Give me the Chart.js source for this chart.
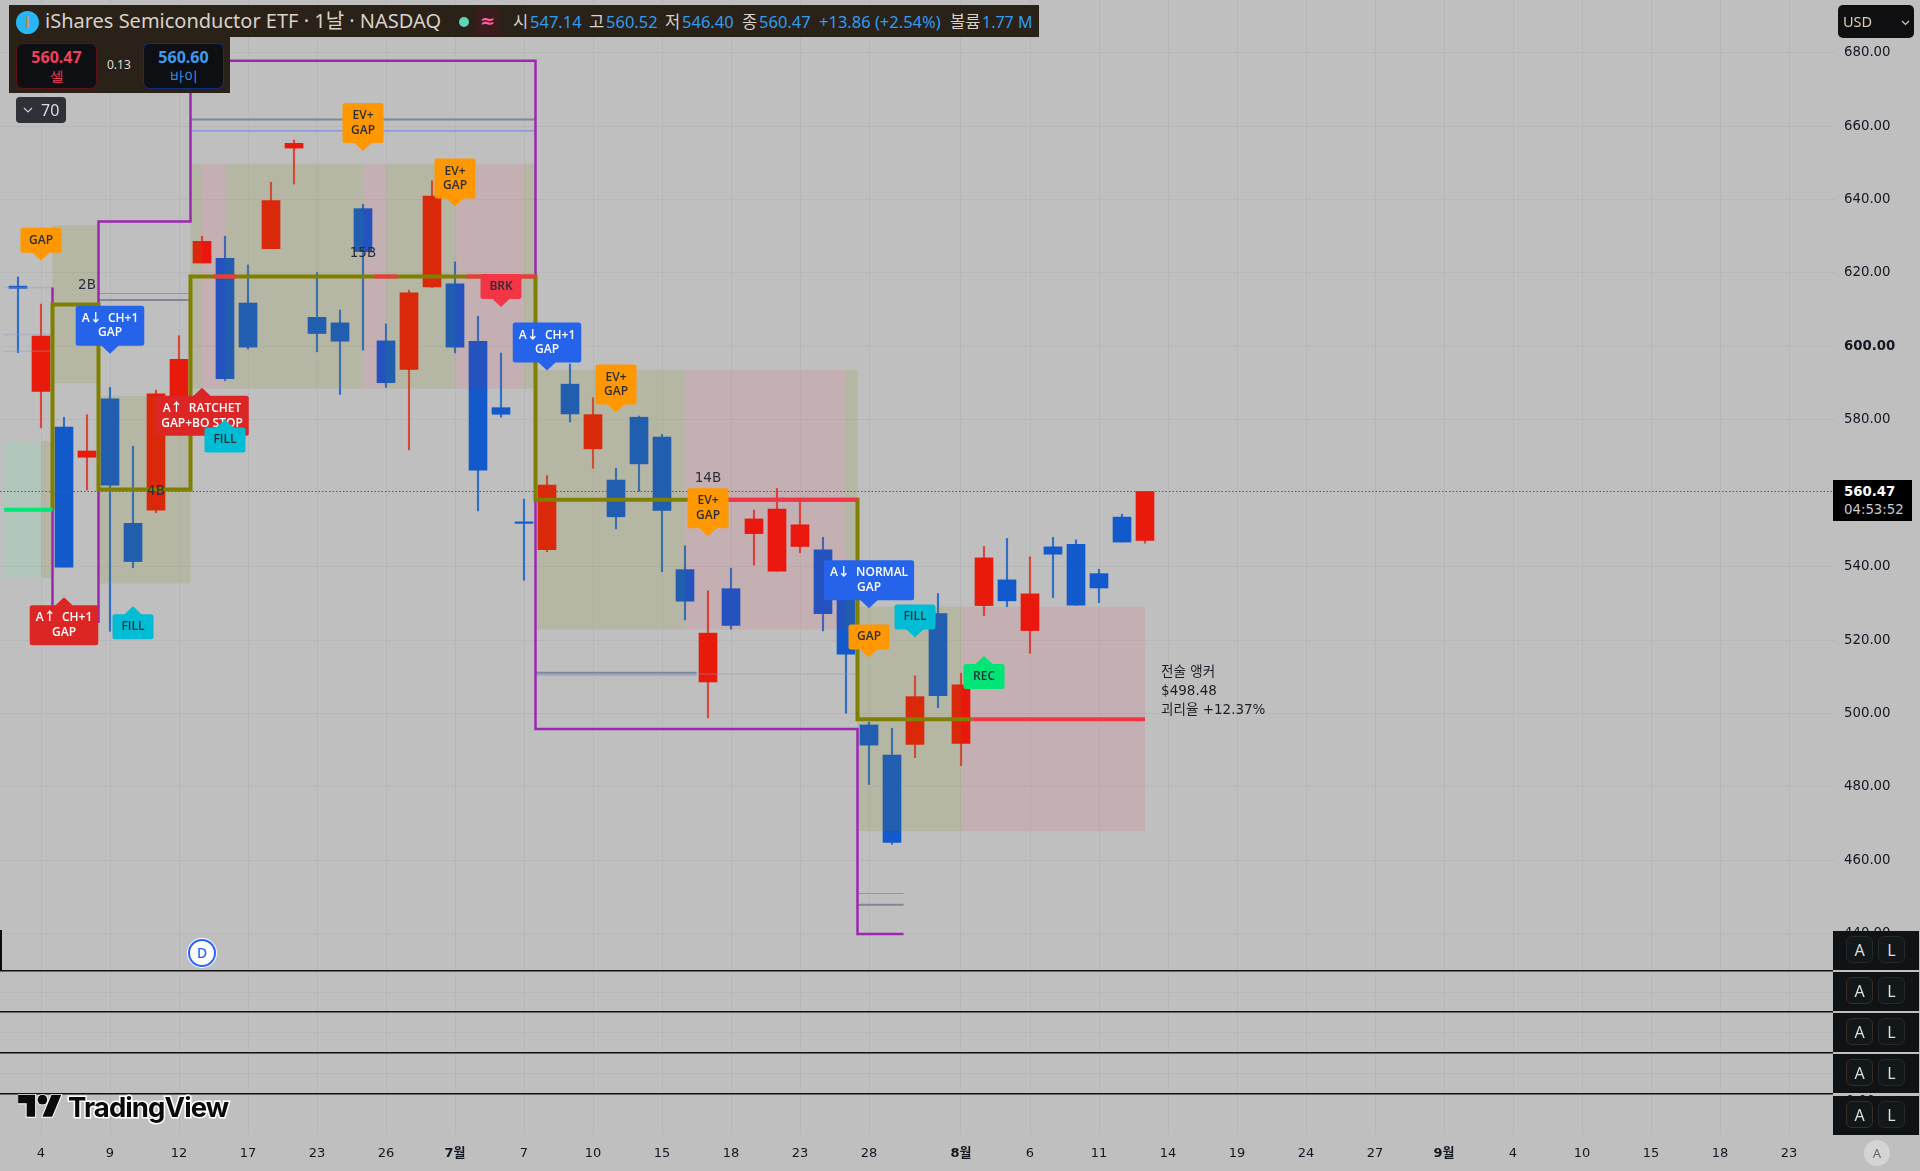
<!DOCTYPE html>
<html lang="ko"><head><meta charset="utf-8">
<script src="https://cdn.jsdelivr.net/npm/chart.js@4"></script>
<style>
html,body{margin:0;padding:0;background:#bfbfbf;width:1920px;height:1171px;overflow:hidden;font-family:"Noto Sans","Noto Sans CJK KR",sans-serif}
#c{position:absolute;left:0;top:0;display:block}
.a{position:absolute;white-space:nowrap}
.hd{line-height:1;color:#2f9cf0;font-size:16.5px}
.hw{color:#d8d2c8}
.al{position:absolute;left:1833px;width:86px;height:39px;background:#0f1316}
.al i{position:absolute;top:5px;width:27px;height:27px;border:1px solid #24282b;border-radius:6px;background:#12171a;color:#ddd;font:normal 16px/27px "Noto Sans";text-align:center;box-sizing:border-box}
.pl{position:absolute;left:0;width:1833px;height:2px;background:linear-gradient(#111 50%,#666 50%)}
.fg{position:absolute;left:0;width:1835px;height:1px;background:rgba(0,0,0,.035)}
</style></head><body>
<canvas id="c" width="1920" height="1171"></canvas>

<div class="fg" style="top:992px"></div><div class="fg" style="top:1032px"></div><div class="fg" style="top:1073px"></div>
<div class="pl" style="top:970px"></div><div class="pl" style="top:1011px"></div><div class="pl" style="top:1052px"></div><div class="pl" style="top:1093px"></div>
<div class="a" style="left:0;top:930px;width:2px;height:40px;background:#0a0a0a"></div>

<div class="a" style="left:9px;top:5px;width:1030px;height:32px;background:#2a2118"></div>
<div class="a" style="left:9px;top:37px;width:221px;height:56px;background:#2a2118"></div>
<div class="a" style="left:16px;top:11px;width:23px;height:23px;border-radius:50%;background:#29b6f6;color:#d98a3a;font:bold 16px/23px 'Noto Sans';text-align:center">i</div>
<div class="a hw" id="title" style="left:45px;top:8px;font-size:20px;line-height:26px">iShares Semiconductor ETF · 1날 · NASDAQ</div>
<div class="a" style="left:459px;top:17px;width:10px;height:10px;border-radius:50%;background:#5fd6b6"></div>
<div class="a" style="left:476px;top:7px;width:23px;height:28px;background:#3a1c1c;color:#ff5fa8;font:bold 18px/28px 'DejaVu Sans';text-align:center">≈</div>
<div class="a hd hw" style="left:513px;top:14px">시</div><div class="a hd" style="left:530px;top:14px">547.14</div>
<div class="a hd hw" style="left:589px;top:14px">고</div><div class="a hd" style="left:606px;top:14px">560.52</div>
<div class="a hd hw" style="left:665px;top:14px">저</div><div class="a hd" style="left:682px;top:14px">546.40</div>
<div class="a hd hw" style="left:742px;top:14px">종</div><div class="a hd" style="left:759px;top:14px">560.47</div>
<div class="a hd" style="left:819px;top:14px">+13.86 (+2.54%)</div>
<div class="a hd hw" style="left:950px;top:14px">볼륨</div><div class="a hd" style="left:982px;top:14px;font-size:16px">1.77 M</div>

<div class="a" style="left:16px;top:43px;width:81px;height:46px;box-sizing:border-box;border:1px solid #5f1018;border-radius:7px;background:#0d0f12;text-align:center;color:#f23f5d">
 <div style="font:bold 16px/20px 'Noto Sans';margin-top:3px">560.47</div><div style="font:14px/17px 'Noto Sans'">셀</div></div>
<div class="a" style="left:107px;top:57px;color:#ddd;font:12px/16px 'Noto Sans'">0.13</div>
<div class="a" style="left:143px;top:43px;width:81px;height:46px;box-sizing:border-box;border:1px solid #0f2f7a;border-radius:7px;background:#0d0f12;text-align:center;color:#3d9cf0">
 <div style="font:bold 16px/20px 'Noto Sans';margin-top:3px">560.60</div><div style="font:14px/17px 'Noto Sans'">바이</div></div>

<div class="a" style="left:16px;top:97px;width:50px;height:26px;border-radius:4px;background:#2e3136;color:#ddd;font:16px/26px 'Noto Sans'">
 <svg style="position:absolute;left:7px;top:10px" width="10" height="6"><path d="M1 1l4 4 4-4" fill="none" stroke="#ccc" stroke-width="1.2"/></svg><span style="position:absolute;left:25px">70</span></div>

<div class="a" style="left:1838px;top:5px;width:76px;height:33px;border-radius:5px;background:#0f0f11;color:#ddd0b0;font:14.500px/33px 'Noto Sans'"><span style="position:absolute;left:5px">USD</span>
 <svg style="position:absolute;left:63px;top:15px" width="9" height="6"><path d="M1 1l3.500 3.500 3.500-3.500" fill="none" stroke="#ccc" stroke-width="1.2"/></svg></div>

<div class="a" style="left:1833px;top:480px;width:79px;height:41px;background:#000;font-family:'DejaVu Sans'">
 <div style="position:absolute;left:11px;top:3px;color:#fff;font:bold 13.300px/17px 'DejaVu Sans'">560.47</div>
 <div style="position:absolute;left:11px;top:21px;color:#ccc;font:13.300px/17px 'DejaVu Sans'">04:53:52</div></div>

<div class="a" style="left:1846px;top:1092px;color:#131722;font:13px/16px 'DejaVu Sans'">0.00</div>
<div class="al" style="top:931px"><i style="left:13px">A</i><i style="left:45px">L</i></div>
<div class="al" style="top:972px"><i style="left:13px;border-color:#3a2c22">A</i><i style="left:45px">L</i></div>
<div class="al" style="top:1013px"><i style="left:13px;border-color:#3a2c22">A</i><i style="left:45px">L</i></div>
<div class="al" style="top:1054px"><i style="left:13px;border-color:#3a2c22">A</i><i style="left:45px">L</i></div>
<div class="al" style="top:1096px"><i style="left:13px;border-color:#3a2c22">A</i><i style="left:45px">L</i></div>

<div class="a" style="left:1864px;top:1140px;width:26px;height:26px;border-radius:50%;background:#d4d4d4;color:#666;font:13px/26px 'Noto Sans';text-align:center">A</div>

<div class="a" style="left:188px;top:939px;width:28px;height:28px;box-sizing:border-box;border-radius:50%;background:#fff;border:2px solid #2962ff;box-shadow:0 0 0 1px #fff;color:#2962ff;font:500 14px/24px 'Noto Sans';text-align:center">D</div>

<svg class="a" style="left:18px;top:1090px" width="44" height="34" viewBox="0 0 36 28"><g fill="#0a0a0a" stroke="#fff" stroke-width="1.600" paint-order="stroke"><path d="M14 22H7V11H0V4h14v18z"/><circle cx="20" cy="8" r="4"/><path d="M28 22h-8l7.500-18h8L28 22z"/></g></svg>
<div class="a" style="left:68px;top:1089px;color:#0a0a0a;font:bold 27.500px/36px 'Inter','Noto Sans';letter-spacing:-.9px;paint-order:stroke fill;-webkit-text-stroke:3px #fff">TradingView</div>

<script>
// ---- categories (trading days, then the empty future part of the time axis) ----
const categories = ["6/3","6/4","6/5","6/6","6/9","6/10","6/11","6/12","6/13","6/16","6/17","6/18","6/20","6/23","6/24","6/25","6/26","6/27","6/30",
 "7/1","7/2","7/3","7/7","7/8","7/9","7/10","7/11","7/14","7/15","7/16","7/17","7/18","7/21","7/22","7/23","7/24","7/25","7/28","7/29","7/30","7/31",
 "8/1","8/4","8/5","8/6","8/7","8/8","8/11","8/12","8/13"];
// ---- OHLC ----
const opens  = [616.4,587.7,578.0,569.8,585.7,551.8,555.4,581,622.7,624,611.8,626.6,654,607.9,606.4,637.5,601.5,593.7,616.2,617,601.4,583.3,552.2,544.6,589.7,572.1,563.6,580.7,575.3,539.2,508.6,534,549,538.8,545.5,544.6,538,496.9,488.7,491.6,527.2,491.9,529.4,536.4,522.6,545.4,546.1,538.1,553.5,547.14];
const closes = [615.8,602.8,539.9,571.5,562.2,541.4,587.1,596.5,628.6,591.2,599.8,639.7,655.3,603.5,601.4,625.8,590.1,614.6,640.9,599.8,566.3,581.5,551.8,562.2,581.6,581.4,553.6,568,555.3,530.6,521.9,524,553,555.7,551.4,527.2,516.2,491.4,464.9,504.6,504.9,507.8,542.4,530.7,532.6,543.4,529.5,534.2,546.7,560.47];
const highs  = [618.9,611.5,580.7,581.4,588.8,572.8,588.1,602.9,630,630,622.2,644.7,656.2,620.1,609.9,638.7,606.1,615.3,645.1,623,608.2,598.2,558.4,564.8,595.2,586,566.8,581,576,545.7,533.4,539.6,555.4,561.3,557.7,548,541,497.7,496,510.3,532.7,511,545.5,547.7,542.7,548,547.3,539.3,554.3,560.52];
const lows   = [598.3,577.8,539.9,560.9,522.4,539.7,554.7,580,622.7,590.7,599.3,626.6,644.2,598.5,586.9,599,588.8,571.8,616,598.2,555.2,580.7,536.3,544.1,579.4,566.8,550.3,560.5,538.6,525.5,498.8,523,540.4,538.8,543.8,522.5,500.1,480.7,464.4,488,501.6,485.8,526.6,529.1,516.4,531.6,529.5,530.2,546.7,546.40];
const lastClose = 560.47;
// ---- axes ----
const priceTicks = [680,660,640,620,600,580,540,520,500,480,460,440];
const boldPrice = 600;
const timeTickBars = [1,4,7,10,13,16,19,22,25,28,31,34,37,41,44,47,50,53,56,59,62,65,68,71,74,77];
const timeTickLabels = ["4","9","12","17","23","26","7월","7","10","15","18","23","28","8월","6","11","14","19","24","27","9월","4","10","15","18","23"];
const monthLabels = ["7월","8월","9월"];
// ---- zones: bar range + price range ----
const zoneFrom = [1.5,-0.6,1.0,3.5,7.5,8,9,15,16,19,22,22.5,29,36,36.5,41];
const zoneTo   = [3.5,1.0,1.5,7.5,8,9,15,16,19,22,22.5,29,36,36.5,41,49];
const zoneLow  = [590,536.9,536.9,535.4,588.5,588.5,588.5,588.5,588.5,588.5,588.5,522.9,522.9,522.9,468,468];
const zoneHigh = [633,574.2,574.2,586.5,649.7,649.7,649.7,649.7,649.7,649.7,649.7,593.6,593.6,593.6,529.1,529.1];
const zoneKind = ["olive","teal","olive","olive","olive","pink","olive","pink","olive","pink","olive","olive","pink","olive","olive","pink"];
// ---- stepped level paths ----
const oliveBars   = [1.5,1.5,3.5,3.5,7.5,7.5,22.5,22.5,36.5,36.5,41.5];
const olivePrices = [555.6,611.4,611.4,561,561,619,619,558.2,558.2,498.48,498.48];
const purpleBars   = [1.5,1.5,3.5,3.5,3.5,7.5,7.5,22.5,22.5,36.5,36.5,38.5];
const purplePrices = [616,525,525,634,634,634,677.8,677.8,495.8,495.8,440,440];
// ---- short level segments ----
const redFrom = [8.5,15.5,19.5,29.5,41.5], redTo = [9.5,16.5,22.5,36.5,49], redPrice = [619,619,619,558.2,498.48];
const grayFrom = [7.5,3.5,22.5,36.5], grayTo = [22.5,7.5,29.5,38.5], grayPrice = [661.8,612.6,511.1,447.9];
const blueFrom = [7.5,3.5,22.5,36.5], blueTo = [22.5,7.5,29.5,38.5], bluePrice = [658.7,614.4,510.5,451];
const fadedFrom = [-0.6,-0.6,-0.6,29.5], fadedTo = [1.5,1.5,1.5,36.5], fadedPrice = [616,603.2,598.7,510.8];
const greenFrom = -0.6, greenTo = 1.5, greenPrice = 555.5;
// ---- event markers ----
const markerBars   = [1,4,2,5,8,9,15,19,21,23,26,30,37,37,39,42];
const markerTips   = [623.3,598,531.7,529.2,588.7,580.1,653.2,638.1,610.7,593.4,582,548.3,528.7,515.3,520.7,515.7];
const markerText   = ["GAP","A↓  CH+1|GAP","A↑  CH+1|GAP","FILL","A↑  RATCHET|GAP+BO STOP","FILL","EV+|GAP","EV+|GAP","BRK","A↓  CH+1|GAP","EV+|GAP","EV+|GAP","A↓  NORMAL|GAP","GAP","FILL","REC"];
const markerKind   = ["amber","blue","red","cyan","red","cyan","amber","amber","brk","blue","amber","amber","blue","amber","cyan","rec"];
const markerUp     = [0,0,1,1,1,1,0,0,0,0,0,0,0,0,0,1];
const sizeBars = [3,6,15,30], sizePrices = [616.5,560.6,625.3,564], sizeText = ["2B","4B","15B","14B"];
const noteLines = ["전술 앵커","$498.48","괴리율 +12.37%"], noteBar = 49.7, notePrices = [498.48];

// ---- styling ----
const RED="#e81a0c", BLUE="#1259cc", RED_W="#d8463c", BLUE_W="#2f6fc8";
const zoneFill={olive:"rgba(128,128,0,.14)",pink:"rgba(255,0,30,.08)",teal:"rgba(90,255,170,.12)"};
const markerFill={amber:"#ff9800",blue:"#2563eb",red:"#dc2626",cyan:"#00bcd4",brk:"#f23645",rec:"#00e676"};
const markerInk={amber:"#2a2e39",blue:"#fff",red:"#fff",cyan:"#2a2e39",brk:"#2a2e39",rec:"#2a2e39"};
const isUp=i=>closes[i]>=opens[i];
const xMin=-18/23, xMax=(1835-18)/23;
const segs=(f,t,p)=>{const o=[];f.forEach((v,i)=>{o.push({x:v,y:p[i]},{x:t[i],y:p[i]},{x:NaN,y:NaN});});return o;};
const path=(b,p)=>b.map((v,i)=>({x:v,y:p[i]}));
const line=(label,data,color,width,order,extra)=>Object.assign({type:"line",label,data,borderColor:color,borderWidth:width,pointRadius:0,order,spanGaps:false,tension:0},extra||{});
const noPad=s=>{s.paddingTop=0;s.paddingBottom=0;s.paddingLeft=0;s.paddingRight=0;};

const layers={id:"layers",
 afterDatasetDraw(ch,a){
  if(ch.data.datasets[a.index].label!=="Body")return;
  const {ctx,scales:{x,y}}=ch; ctx.save();
  zoneFrom.forEach((f,i)=>{const l=x.getPixelForValue(f),r=x.getPixelForValue(zoneTo[i]),t=y.getPixelForValue(zoneHigh[i]),b=y.getPixelForValue(zoneLow[i]);
    ctx.fillStyle=zoneFill[zoneKind[i]];ctx.fillRect(l,t,r-l,b-t);});
  ctx.restore();
 },
 afterDatasetsDraw(ch){
  const {ctx,scales:{x,y}}=ch; ctx.save();
  const font="600 12px 'Open Sans','Noto Sans CJK KR'"; ctx.textAlign="center"; ctx.textBaseline="middle";
  ctx.font="13.5px 'DejaVu Sans'"; ctx.fillStyle="#2a2e39";
  sizeText.forEach((t,i)=>ctx.fillText(t,x.getPixelForValue(sizeBars[i]),y.getPixelForValue(sizePrices[i])));
  markerText.forEach((t,i)=>{
    ctx.font=font;
    const ls=t.split("|"),cx=Math.round(x.getPixelForValue(markerBars[i])),tip=y.getPixelForValue(markerTips[i]);
    const w=Math.max(41,Math.max(...ls.map(s=>ctx.measureText(s).width))+12),h=ls.length>1?40:25,up=markerUp[i];
    const top=up?tip+8:tip-8-h;
    ctx.fillStyle=markerFill[markerKind[i]];
    ctx.beginPath();ctx.roundRect(cx-w/2,top,w,h,2.5);ctx.fill();
    ctx.beginPath();
    if(up){ctx.moveTo(cx-9,tip+8.5);ctx.lineTo(cx,tip);ctx.lineTo(cx+9,tip+8.5);}
    else{ctx.moveTo(cx-9,tip-8.5);ctx.lineTo(cx,tip);ctx.lineTo(cx+9,tip-8.5);}
    ctx.fill();
    ctx.fillStyle=markerInk[markerKind[i]];
    ls.forEach((s,k)=>ctx.fillText(s,cx,top+h/2+(k-(ls.length-1)/2)*14.7));
  });
  ctx.textAlign="left";ctx.font="13.5px 'DejaVu Sans','Noto Sans CJK KR'";ctx.fillStyle="#1c1f26";
  const nx=x.getPixelForValue(noteBar),ny=y.getPixelForValue(notePrices[0]);
  noteLines.forEach((s,k)=>ctx.fillText(s,nx,ny-47+k*19));
  ctx.restore();
 }};

new Chart(document.getElementById("c"),{
 type:"bar",
 data:{labels:categories,datasets:[
  {label:"Body",order:8,data:categories.map((c,i)=>({x:i,y:[opens[i],closes[i]]})),grouped:false,barThickness:18,
   backgroundColor:categories.map((c,i)=>isUp(i)?RED:BLUE),borderWidth:0},
  {label:"Wick",order:9,data:categories.map((c,i)=>({x:i,y:[lows[i],highs[i]]})),grouped:false,barThickness:1.5,
   backgroundColor:categories.map((c,i)=>isUp(i)?RED_W:BLUE_W),borderWidth:0},
  line("Last",[{x:xMin,y:lastClose},{x:xMax,y:lastClose}],"#5a5a5a",1,7,{borderDash:[1.5,2]}),
  line("Faded",segs(fadedFrom,fadedTo,fadedPrice),"rgba(150,150,190,.35)",1.5,6),
  line("Gray",segs(grayFrom,grayTo,grayPrice),"#7f8890",2,5),
  line("BlueLvl",segs(blueFrom,blueTo,bluePrice),"#7f93e0",1.2,5),
  line("Purple",path(purpleBars,purplePrices),"#9c27b0",2.5,4,{borderJoinStyle:"miter"}),
  line("Olive",path(oliveBars,olivePrices),"#808000",4,3,{borderJoinStyle:"miter"}),
  line("Red",segs(redFrom,redTo,redPrice),"#f23645",4,2),
  line("Green",[{x:greenFrom,y:greenPrice},{x:greenTo,y:greenPrice}],"#00e676",4,2)
 ]},
 options:{responsive:false,animation:false,devicePixelRatio:1,
  layout:{padding:0,autoPadding:false},
  plugins:{legend:{display:false},tooltip:{enabled:false}},
  scales:{
   x:{type:"linear",offset:false,min:xMin,max:xMax,
    grid:{color:"rgba(0,0,0,.04)",drawTicks:false,offset:false},border:{display:false},
    afterBuildTicks(s){s.ticks=timeTickBars.map(v=>({value:v}));},
    afterFit(s){s.height=36;noPad(s);},
    ticks:{autoSkip:false,maxRotation:0,padding:11,color:"#131722",
     font:c=>({family:"'DejaVu Sans','Noto Sans CJK KR'",size:13,weight:monthLabels.includes(timeTickLabels[c.index])?"bold":"normal"}),
     callback:(v,i)=>timeTickLabels[i]}},
   y:{type:"linear",position:"right",min:680-(1135-52.6)/3.672,max:680+52.6/3.672,
    grid:{color:"rgba(0,0,0,.04)",drawTicks:false},border:{display:false},
    afterBuildTicks(s){s.ticks=priceTicks.map(v=>({value:v}));},
    afterFit(s){s.width=85;noPad(s);},
    ticks:{crossAlign:"near",padding:9,color:"#131722",
     font:c=>({family:"'DejaVu Sans'",size:13.3,weight:c.tick&&c.tick.value===boldPrice?"bold":"normal"}),
     callback:v=>v.toFixed(2)}}
  }},
 plugins:[layers]
});
</script>
</body></html>
